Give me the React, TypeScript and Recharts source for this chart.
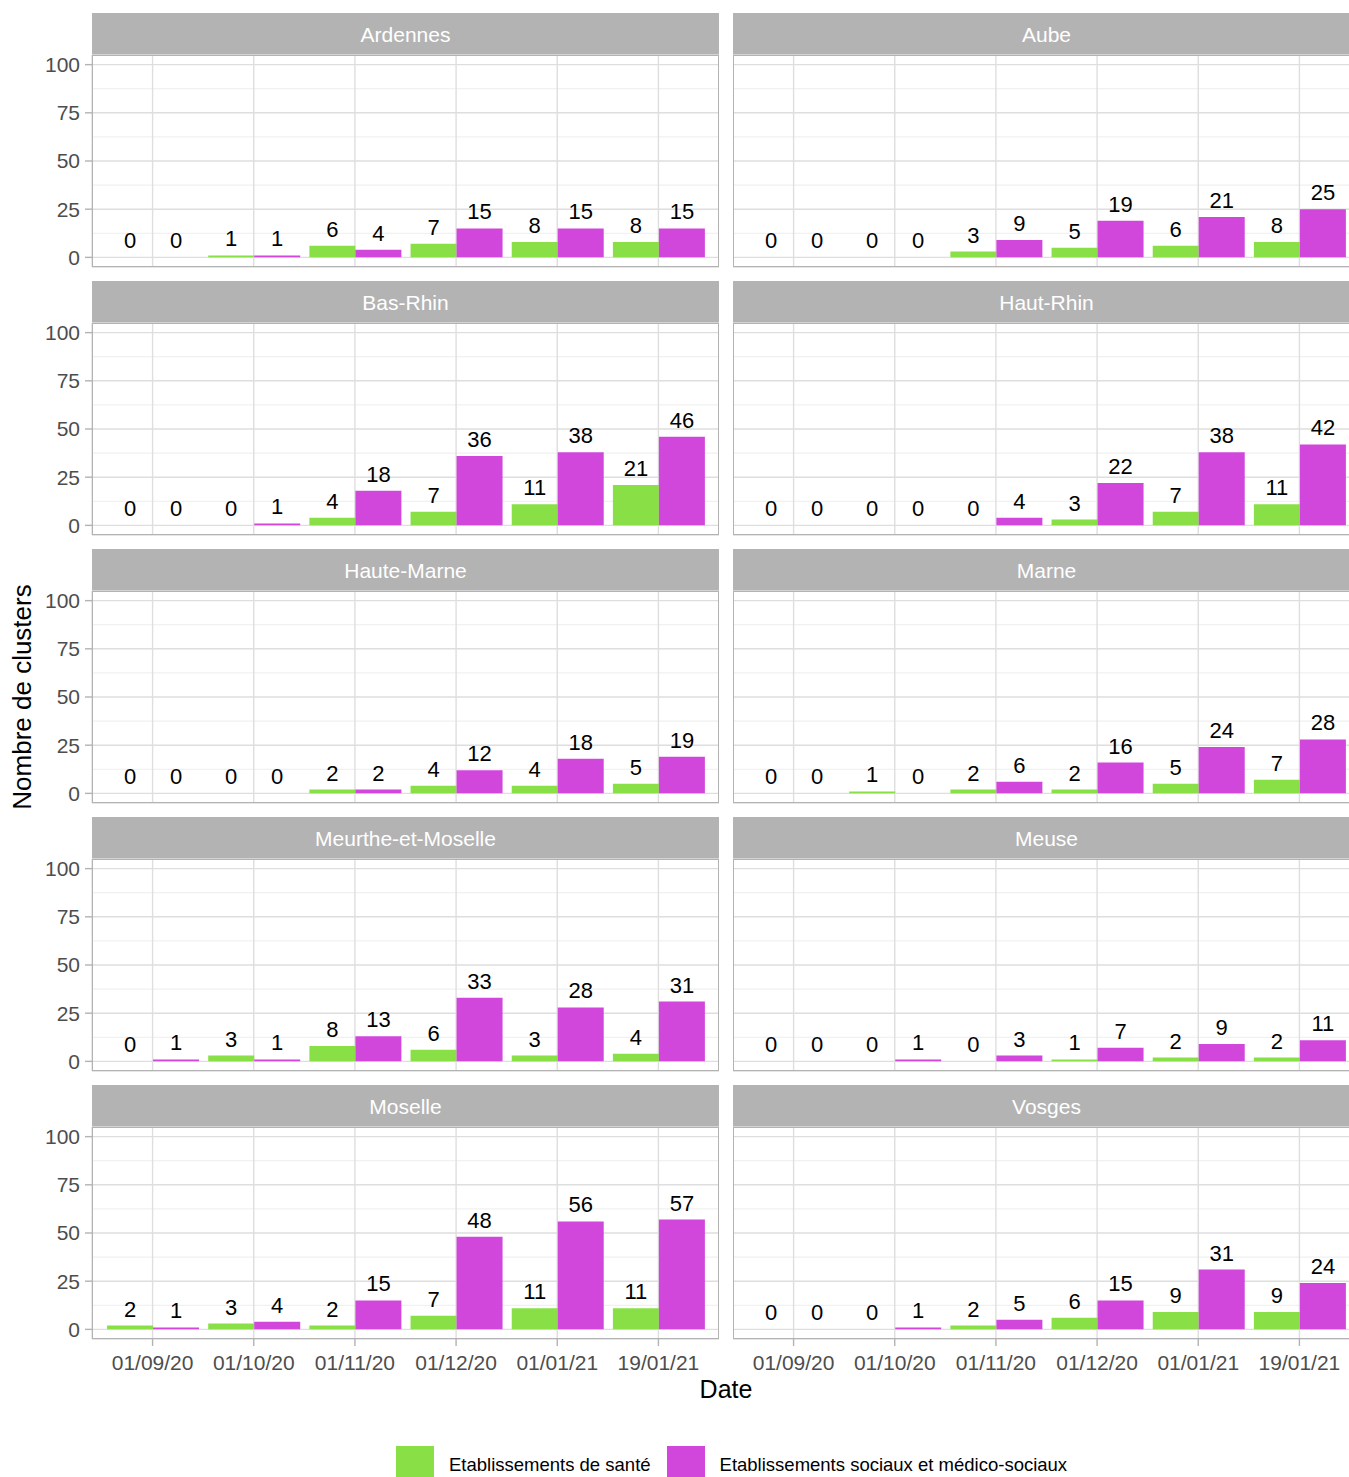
import { Bar, BarChart, CartesianGrid, LabelList, XAxis, YAxis } from "recharts";

const dates = ["01/09/20", "01/10/20", "01/11/20", "01/12/20", "01/01/21", "19/01/21"];
const yTicks = [0, 25, 50, 75, 100];
const yMinorTicks = [12.5, 37.5, 62.5, 87.5];

const seriesNames = ["Etablissements de santé", "Etablissements sociaux et médico-sociaux"];
const seriesColors = ["#89E046", "#D147DC"];

const ardennesSante = [0, 1, 6, 7, 8, 8];
const ardennesSocial = [0, 1, 4, 15, 15, 15];
const aubeSante = [0, 0, 3, 5, 6, 8];
const aubeSocial = [0, 0, 9, 19, 21, 25];
const basRhinSante = [0, 0, 4, 7, 11, 21];
const basRhinSocial = [0, 1, 18, 36, 38, 46];
const hautRhinSante = [0, 0, 0, 3, 7, 11];
const hautRhinSocial = [0, 0, 4, 22, 38, 42];
const hauteMarneSante = [0, 0, 2, 4, 4, 5];
const hauteMarneSocial = [0, 0, 2, 12, 18, 19];
const marneSante = [0, 1, 2, 2, 5, 7];
const marneSocial = [0, 0, 6, 16, 24, 28];
const meurtheSante = [0, 3, 8, 6, 3, 4];
const meurtheSocial = [1, 1, 13, 33, 28, 31];
const meuseSante = [0, 0, 0, 1, 2, 2];
const meuseSocial = [0, 1, 3, 7, 9, 11];
const moselleSante = [2, 3, 2, 7, 11, 11];
const moselleSocial = [1, 4, 15, 48, 56, 57];
const vosgesSante = [0, 0, 2, 6, 9, 9];
const vosgesSocial = [0, 1, 5, 15, 31, 24];

const panels = [
  { name: "Ardennes", sante: ardennesSante, social: ardennesSocial },
  { name: "Aube", sante: aubeSante, social: aubeSocial },
  { name: "Bas-Rhin", sante: basRhinSante, social: basRhinSocial },
  { name: "Haut-Rhin", sante: hautRhinSante, social: hautRhinSocial },
  { name: "Haute-Marne", sante: hauteMarneSante, social: hauteMarneSocial },
  { name: "Marne", sante: marneSante, social: marneSocial },
  { name: "Meurthe-et-Moselle", sante: meurtheSante, social: meurtheSocial },
  { name: "Meuse", sante: meuseSante, social: meuseSocial },
  { name: "Moselle", sante: moselleSante, social: moselleSocial },
  { name: "Vosges", sante: vosgesSante, social: vosgesSocial },
];

// layout
const PLOT_W = 627;
const PLOT_H = 212;
const STRIP_H = 42;
const ROW_STEP = 268;
const TOP = 13;
const COL_X = [92, 733];
const AXIS_W = 92;
const X_AXIS_H = 45;
const PAD = 8; // breathing room so edge tick labels are not clipped
const FONT = "'Liberation Sans', Arial, sans-serif";

// value label drawn above each bar (zero-height bars included)
const renderValue = (props: any) => {
  const vb = props.viewBox ?? props;
  const x = Number(vb.x ?? props.x);
  const y = Number(vb.y ?? props.y);
  const w = Number(vb.width ?? props.width);
  return (
    <text x={x + w / 2} y={y - 9} textAnchor="middle" fontSize={22} fill="#000000">
      {String(props.value)}
    </text>
  );
};

// zero bars get a hair of height so recharts still hands them to the label list
const tinyForZero = (value: any) => (Number(value) === 0 ? 0.001 : 0);

function Panel({ panel, index }: { panel: (typeof panels)[number]; index: number }) {
  const col = index % 2;
  const row = Math.floor(index / 2);
  const showY = col === 0;
  const showX = row === 4;
  const top = TOP + row * ROW_STEP;
  const plotLeft = COL_X[col];
  const chartLeft = showY ? plotLeft - AXIS_W : plotLeft;
  const chartW = showY ? PLOT_W + AXIS_W : PLOT_W;
  const chartH = PAD + PLOT_H + (showX ? X_AXIS_H : PAD);
  const data = dates.map((d, i) => ({ date: d, sante: panel.sante[i], social: panel.social[i] }));

  return (
    <>
      <div
        style={{
          position: "absolute",
          left: plotLeft,
          top,
          width: PLOT_W,
          height: STRIP_H,
          background: "#B3B3B3",
          color: "#FFFFFF",
          fontSize: 21,
          display: "flex",
          alignItems: "center",
          justifyContent: "center",
          paddingTop: 1,
          boxSizing: "border-box",
        }}
      >
        {panel.name}
      </div>
      <div style={{ position: "absolute", left: chartLeft, top: top + STRIP_H - PAD }}>
        <BarChart
          width={chartW}
          height={chartH}
          data={data}
          margin={{ top: PAD, right: 0, bottom: showX ? 0 : PAD, left: 0 }}
          barCategoryGap="5%"
          barGap={0}
        >
          <CartesianGrid horizontalValues={yMinorTicks} vertical={false} stroke="#EDEDED" strokeWidth={1} />
          <CartesianGrid stroke="#DEDEDE" strokeWidth={1.4} />
          <XAxis
            dataKey="date"
            hide={!showX}
            height={X_AXIS_H}
            padding={{ left: 10, right: 10 }}
            interval={0}
            axisLine={false}
            tickSize={7}
            tickMargin={9}
            tickLine={{ stroke: "#B3B3B3", strokeWidth: 1.4 }}
            tick={{ fill: "#4D4D4D", fontSize: 21 }}
          />
          <YAxis
            type="number"
            domain={[-5, 105]}
            ticks={yTicks}
            interval={0}
            hide={!showY}
            width={AXIS_W}
            axisLine={false}
            tickSize={7}
            tickMargin={5}
            tickLine={{ stroke: "#B3B3B3", strokeWidth: 1.4 }}
            tick={{ fill: "#4D4D4D", fontSize: 21 }}
          />
          <Bar dataKey="sante" name={seriesNames[0]} fill={seriesColors[0]} minPointSize={tinyForZero} isAnimationActive={false}>
            <LabelList dataKey="sante" content={renderValue} />
          </Bar>
          <Bar dataKey="social" name={seriesNames[1]} fill={seriesColors[1]} minPointSize={tinyForZero} isAnimationActive={false}>
            <LabelList dataKey="social" content={renderValue} />
          </Bar>
        </BarChart>
        <div
          style={{
            position: "absolute",
            left: showY ? AXIS_W : 0,
            top: PAD,
            width: PLOT_W,
            height: PLOT_H,
            border: "1.5px solid #B3B3B3",
            boxSizing: "border-box",
            pointerEvents: "none",
          }}
        />
      </div>
    </>
  );
}

export default function App() {
  return (
    <div
      style={{
        position: "absolute",
        left: 0,
        top: 0,
        width: 1349,
        height: 1477,
        overflow: "hidden",
        background: "#FFFFFF",
        fontFamily: FONT,
      }}
    >
      {panels.map((p, i) => (
        <Panel key={p.name} panel={p} index={i} />
      ))}

      <div
        style={{
          position: "absolute",
          left: 22,
          top: 697,
          transform: "translate(-50%, -50%) rotate(-90deg)",
          whiteSpace: "nowrap",
          fontSize: 26,
          color: "#000",
        }}
      >
        Nombre de clusters
      </div>

      <div
        style={{
          position: "absolute",
          left: 626,
          top: 1374,
          width: 200,
          textAlign: "center",
          fontSize: 25,
          lineHeight: "30px",
          color: "#000",
        }}
      >
        Date
      </div>

      <div
        style={{
          position: "absolute",
          left: 396,
          top: 1446,
          display: "flex",
          alignItems: "center",
          fontSize: 18.5,
          color: "#000",
        }}
      >
        {seriesNames.map((name, i) => (
          <div key={name} style={{ display: "flex", alignItems: "center", marginRight: 16 }}>
            <div style={{ width: 38, height: 38, background: seriesColors[i], marginRight: 15 }} />
            <span>{name}</span>
          </div>
        ))}
      </div>
    </div>
  );
}
